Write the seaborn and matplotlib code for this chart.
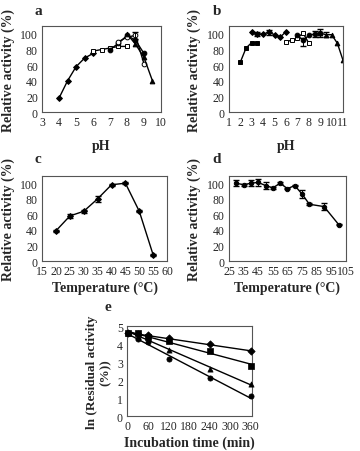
import numpy as np
import seaborn as sns
import matplotlib.pyplot as plt

# ---- panel a: pH optimum (several buffers) ----
a_ph_acetate = [4, 4.5, 5, 5.5, 6]
a_act_acetate = [18, 40, 58, 69, 75]
a_ph_phos = [6, 6.5, 7, 7.5, 8]
a_act_phos = [78, 80, 82, 84, 84]
a_ph_tris = [7, 7.5, 8, 8.5, 9]
a_act_tris = [80, 88, 98, 92, 75]
a_ph_tris2 = [7.5, 8, 8.5, 9]
a_act_tris2 = [90, 96, 98, 62]
a_ph_gly = [8, 8.5, 9, 9.5]
a_act_gly = [100, 87, 70, 40]

# ---- panel b: pH stability ----
b_ph_gly = [2, 2.5, 3, 3.5]
b_act_gly = [64, 82, 89, 89]
b_ph_acetate = [3, 3.5, 4, 4.5, 5, 5.5, 6]
b_act_acetate = [103, 100, 100, 102, 99, 96, 103]
b_ph_phos = [6, 6.5, 7, 7.5, 8]
b_act_phos = [90, 92, 95, 101, 88]
b_ph_tris = [7, 7.5, 8, 8.5, 9]
b_act_tris = [98, 92, 98, 100, 101]
b_ph_carb = [9, 9.5, 10, 10.5, 11]
b_act_carb = [101, 99, 99, 88, 66]

# ---- panel c: temperature optimum ----
c_temp = [20, 25, 30, 35, 40, 45, 50, 55]
c_act = [39, 58, 64, 80, 98, 100, 64, 8]
c_err = [1, 2, 2, 4, 1, 1, 1, 1]

# ---- panel d: thermostability ----
d_temp = [30, 35, 40, 45, 50, 55, 60, 65, 70, 75, 80, 90, 100]
d_act = [100, 98, 100, 101, 97, 94, 100, 93, 97, 86, 73, 70, 47]
d_err = [4, 1, 4, 4, 4, 1, 1, 1, 1, 5, 1, 5, 1]

# ---- panel e: thermal inactivation kinetics ----
e_time = [0, 30, 60, 120, 240, 360]
e_diamond = [4.6, 4.55, 4.5, 4.35, 4.0, 3.6]
e_square = [4.6, 4.6, 4.4, 4.2, 3.6, 2.8]
e_triangle = [4.6, 4.4, 4.5, 3.7, 2.6, 1.8]
e_circle = [4.6, 4.3, 4.1, 3.2, 2.1, 1.1]

sns.set_style('white')
plt.rcParams['font.family'] = ['Liberation Serif', 'DejaVu Serif']
plt.rcParams['axes.linewidth'] = 0.8

fig = plt.figure(figsize=(3.6, 4.52), dpi=100)

TICK = 8.5
LAB = 10


def style_ax(ax, xlim, xticks, ylim, yticks, xlabel, ylabel, letter, lx, ly, xpad=3, ysize=LAB):
    ax.set_xlim(*xlim)
    ax.set_ylim(*ylim)
    ax.set_xticks(xticks)
    ax.set_yticks(yticks)
    ax.tick_params(direction='in', length=3, width=0.7, labelsize=TICK, pad=3)
    for s in ax.spines.values():
        s.set_color('#555555')
    ax.set_xlabel(xlabel, fontsize=LAB, fontweight='bold', labelpad=xpad)
    ax.set_ylabel(ylabel, fontsize=ysize, fontweight='bold', labelpad=4)
    fig.text(lx, ly, letter, fontsize=11, fontweight='bold', ha='left', va='center')


def series(ax, x, y, marker, mfc='black', ms=3.4):
    sns.lineplot(x=x, y=y, ax=ax, color='black', lw=1, marker=marker,
                 markersize=ms, markerfacecolor=mfc, markeredgecolor='black',
                 markeredgewidth=0.7, legend=False)


# panel a
ax_a = fig.add_axes([0.117, 0.75, 0.33, 0.19])
series(ax_a, a_ph_acetate, a_act_acetate, 'D', ms=3)
series(ax_a, a_ph_phos, a_act_phos, 's', mfc='white')
series(ax_a, a_ph_tris, a_act_tris, 'o')
series(ax_a, a_ph_tris2, a_act_tris2, 'o', mfc='white')
series(ax_a, a_ph_gly, a_act_gly, '^')
ax_a.errorbar([8.5], [98], yerr=[5], fmt='none', ecolor='black', elinewidth=0.7, capsize=2)
style_ax(ax_a, (3, 10), range(3, 11), (0, 110), range(0, 101, 20),
         'pH', 'Relative activity (%)', 'a', 0.095, 0.975, xpad=8)

# panel b
ax_b = fig.add_axes([0.636, 0.75, 0.317, 0.19])
series(ax_b, b_ph_gly, b_act_gly, 's')
series(ax_b, b_ph_acetate, b_act_acetate, 'D', ms=3)
series(ax_b, b_ph_phos, b_act_phos, 's', mfc='white')
series(ax_b, b_ph_tris, b_act_tris, 'o')
series(ax_b, b_ph_carb, b_act_carb, '^')
ax_b.errorbar([3.5, 4.5, 7.5, 8.5, 9, 9.5], [100, 102, 90, 100, 101, 99],
              yerr=[3, 3, 5, 4, 5, 3], fmt='none', ecolor='black', elinewidth=0.7, capsize=2)
style_ax(ax_b, (1, 11), range(1, 12), (0, 110), range(0, 101, 20),
         'pH', 'Relative activity (%)', 'b', 0.59, 0.975, xpad=8)

# panel c
ax_c = fig.add_axes([0.117, 0.42, 0.347, 0.188])
series(ax_c, c_temp, c_act, 'D', ms=3)
ax_c.errorbar(c_temp, c_act, yerr=c_err, fmt='none', ecolor='black', elinewidth=0.7, capsize=2)
style_ax(ax_c, (15, 60), range(15, 61, 5), (0, 109), range(0, 101, 20),
         'Temperature (°C)', 'Relative activity (%)', 'c', 0.095, 0.648, xpad=2)

# panel d
ax_d = fig.add_axes([0.636, 0.42, 0.325, 0.188])
series(ax_d, d_temp, d_act, 'o', ms=3.2)
ax_d.errorbar(d_temp, d_act, yerr=d_err, fmt='none', ecolor='black', elinewidth=0.7, capsize=2)
style_ax(ax_d, (25, 105), range(25, 106, 10), (0, 109), range(0, 101, 20),
         'Temperature (°C)', 'Relative activity (%)', 'd', 0.59, 0.648, xpad=2)

# panel e: points plus linear fits
ax_e = fig.add_axes([0.353, 0.077, 0.347, 0.199])
for vals, mk in [(e_diamond, 'D'), (e_square, 's'), (e_triangle, '^'), (e_circle, 'o')]:
    sns.scatterplot(x=e_time, y=vals, ax=ax_e, color='black', marker=mk, s=14,
                    edgecolor='black', linewidth=0.5, legend=False, clip_on=False, zorder=3)
    k, b = np.polyfit(e_time, vals, 1)
    tt = np.array([e_time[0], e_time[-1]])
    sns.lineplot(x=tt, y=k * tt + b, ax=ax_e, color='black', lw=1, legend=False)
style_ax(ax_e, (0, 365), range(0, 361, 60), (0, 5), range(0, 6),
         'Incubation time (min)', 'ln (Residual activity\n(%))', 'e', 0.29, 0.32,
         xpad=2, ysize=9.5)
ax_e.set_xlim(-2, 364)

fig.savefig('out.png', dpi=100)
